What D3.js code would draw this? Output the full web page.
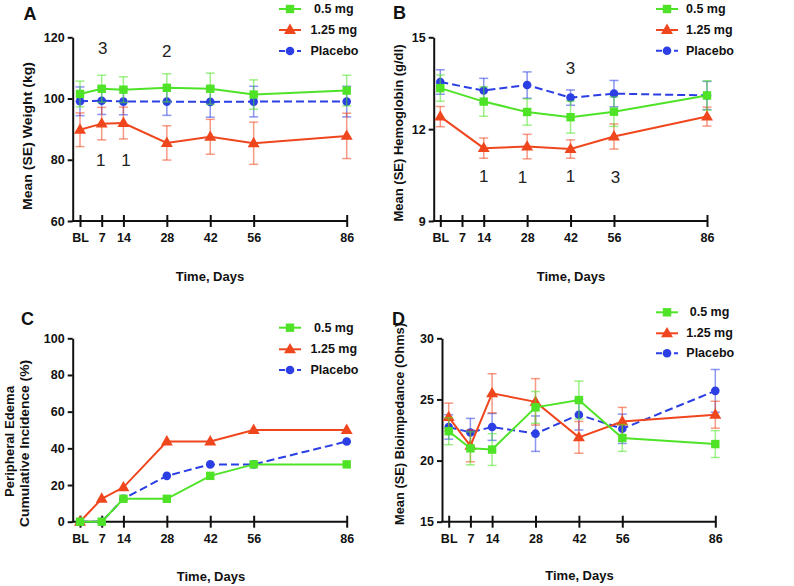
<!DOCTYPE html>
<html>
<head>
<meta charset="utf-8">
<script src="https://cdn.jsdelivr.net/npm/d3@7"></script>
<style>
  html, body { margin: 0; padding: 0; background: #fff; }
  svg { display: block; }
  text { font-family: "Liberation Sans", Arial, sans-serif; }
</style>
</head>
<body>
<svg id="chart" width="794" height="586"></svg>
<script>
// ---------- DATA ----------
const days = [0, 7, 14, 28, 42, 56, 86];
const dayTickLabels = ["BL", "7", "14", "28", "42", "56", "86"];
const seriesNames = [" 0.5 mg", "1.25 mg", "Placebo"];

// Panel A: weight (kg)
const weightDose05 = [101.5, 103.2, 102.9, 103.5, 103.2, 101.3, 102.6];
const weightDose05SE = [4.2, 4.4, 4.2, 4.6, 5.1, 4.8, 5.0];
const weightDose125 = [89.8, 91.8, 92.0, 85.5, 87.5, 85.4, 87.8];
const weightDose125SE = [5.5, 5.3, 5.2, 5.6, 5.7, 6.9, 7.4];
const weightPlacebo = [99.1, 99.3, 99.0, 99.0, 98.9, 99.0, 99.0];
const weightPlaceboSE = [4.7, 4.5, 4.3, 4.5, 5.0, 5.0, 5.0];
const weightTicks = [60, 80, 100, 120];

// Panel B: hemoglobin (g/dl) — no day-7 measurement
const hgbDays = [0, 14, 28, 42, 56, 86];
const hgbDose05 = [13.34, 12.9, 12.56, 12.39, 12.57, 13.1];
const hgbDose05SE = [0.43, 0.48, 0.43, 0.52, 0.48, 0.48];
const hgbDose125 = [12.41, 11.38, 11.43, 11.35, 11.76, 12.41];
const hgbDose125SE = [0.33, 0.33, 0.4, 0.3, 0.41, 0.31];
const hgbPlacebo = [13.54, 13.26, 13.44, 13.03, 13.16, 13.1];
const hgbPlaceboSE = [0.4, 0.4, 0.43, 0.25, 0.43, 0.46];
const hgbTicks = [9, 12, 15];

// Panel C: peripheral edema cumulative incidence (%)
const edemaDose05 = [0, 0, 12.5, 12.5, 25, 31.25, 31.25];
const edemaDose125 = [0, 12.5, 18.75, 43.75, 43.75, 50, 50];
const edemaPlacebo = [0, 0, 12.5, 25, 31.25, 31.25, 43.75];
const edemaTicks = [0, 20, 40, 60, 80, 100];

// Panel D: bioimpedance (Ohms)
const bioDose05 = [22.4, 21.0, 20.9, 24.35, 24.95, 21.85, 21.35];
const bioDose05SE = [1.1, 1.35, 1.3, 1.3, 1.55, 1.1, 1.1];
const bioDose125 = [23.55, 21.2, 25.5, 24.8, 21.9, 23.2, 23.75];
const bioDose125SE = [1.15, 1.3, 1.6, 1.9, 1.3, 1.15, 1.1];
const bioPlacebo = [22.75, 22.3, 22.75, 22.2, 23.75, 22.6, 25.7];
const bioPlaceboSE = [1.0, 1.15, 1.1, 1.45, 1.25, 1.2, 1.75];
const bioTicks = [15, 20, 25, 30];

// Significance annotations [day position, value position, label]
const annotA = [[7.3, 116.5, "3"], [28, 115.5, "2"], [6.7, 79.7, "1"], [14.8, 79.7, "1"]];
const annotB = [[14, 10.45, "1"], [26.5, 10.43, "1"], [42, 10.45, "1"], [56.5, 10.43, "3"], [42, 13.99, "3"]];

// ---------- STYLE ----------
const COL = { g: "#4fe327", r: "#f0461e", b: "#2b3fe4" };
const svg = d3.select("#chart");

function marker(sel, kind, color) {
  if (kind === "g") {
    sel.append("rect").attr("x", -4.2).attr("y", -4.2).attr("width", 8.4).attr("height", 8.4).attr("fill", color);
  } else if (kind === "r") {
    sel.append("path").attr("d", d3.symbol(d3.symbolTriangle, 62)()).attr("transform", "translate(0,0.5)").attr("fill", color);
  } else {
    sel.append("circle").attr("r", 4.3).attr("fill", color);
  }
}

function drawPanel(cfg) {
  const g = svg.append("g");
  const x = d3.scaleLinear().domain([0, 86]).range([cfg.x0, cfg.x86]);
  const y = d3.scaleLinear().domain(cfg.yDomain).range([cfg.yBottom, cfg.yTop]);

  // y axis
  const ya = g.append("g").attr("transform", `translate(${cfg.axisX},0)`)
    .call(d3.axisLeft(y).tickValues(cfg.yTicks).tickFormat(d3.format("d")).tickSize(5).tickPadding(3).tickSizeOuter(0));
  ya.select(".domain").attr("stroke-width", 2).attr("stroke", "#111");
  ya.selectAll(".tick line").attr("stroke-width", 2).attr("stroke", "#111");
  ya.selectAll(".tick text").attr("font-size", 12.5).attr("font-weight", "bold").attr("fill", "#111")
    .attr("font-family", "Liberation Sans, Arial, sans-serif");

  // x axis with crossing ticks
  const xa = g.append("g").attr("transform", `translate(0,${cfg.yBottom})`)
    .call(d3.axisBottom(x).tickValues(days).tickFormat((d, i) => dayTickLabels[i]).tickSize(6).tickPadding(6).tickSizeOuter(0));
  xa.select(".domain").remove();
  xa.append("line").attr("x1", cfg.axisX - 1).attr("x2", cfg.x86 + 1).attr("y1", 0).attr("y2", 0)
    .attr("stroke", "#111").attr("stroke-width", 2);
  xa.selectAll(".tick line").attr("y1", -6).attr("y2", 6).attr("stroke-width", 2).attr("stroke", "#111");
  xa.selectAll(".tick text").attr("font-size", 12.5).attr("font-weight", "bold").attr("fill", "#111")
    .attr("font-family", "Liberation Sans, Arial, sans-serif");

  // series: placebo first, then 1.25 mg, then 0.5 mg on top
  cfg.series.forEach(s => {
    const pts = s.vals.map((v, i) => ({ d: s.days[i], v, se: s.se ? s.se[i] : 0 }));
    const eg = g.append("g").attr("stroke", COL[s.k]).attr("stroke-opacity", 0.55).attr("stroke-width", 1.5);
    if (s.se) {
      pts.forEach(p => {
        const top = y(p.v + p.se), bot = y(p.v - p.se), cx = x(p.d);
        eg.append("line").attr("x1", cx).attr("x2", cx).attr("y1", top).attr("y2", bot);
        eg.append("line").attr("x1", cx - 4.5).attr("x2", cx + 4.5).attr("y1", top).attr("y2", top);
        eg.append("line").attr("x1", cx - 4.5).attr("x2", cx + 4.5).attr("y1", bot).attr("y2", bot);
      });
    }
    g.append("path").datum(pts)
      .attr("d", d3.line().x(p => x(p.d)).y(p => y(p.v)))
      .attr("fill", "none").attr("stroke", COL[s.k]).attr("stroke-width", 2)
      .attr("stroke-dasharray", s.k === "b" ? "8,4" : null);
    pts.forEach(p => {
      const m = g.append("g").attr("transform", `translate(${x(p.d)},${y(p.v)})`);
      marker(m, s.k, COL[s.k]);
    });
  });

  // annotations
  (cfg.annot || []).forEach(a => {
    g.append("text").attr("x", x(a[0])).attr("y", y(a[1])).attr("text-anchor", "middle")
      .attr("dominant-baseline", "central").attr("font-family", "Liberation Serif, Times New Roman, serif")
      .attr("font-size", 17).attr("fill", "#222").text(a[2]);
  });

  // panel letter
  g.append("text").attr("x", cfg.letterX).attr("y", cfg.letterY).attr("text-anchor", "middle")
    .attr("font-size", 18).attr("font-weight", "bold").attr("fill", "#111").text(cfg.letter);

  // x title
  g.append("text").attr("x", cfg.xTitleX).attr("y", cfg.xTitleY).attr("text-anchor", "middle")
    .attr("dominant-baseline", "central").attr("font-size", 13).attr("font-weight", "bold").attr("fill", "#111")
    .text("Time, Days");

  // y title(s)
  cfg.yTitles.forEach(t => {
    const tt = g.append("text").attr("transform", `translate(${t.x},${t.y}) rotate(-90)`).attr("text-anchor", "middle")
      .attr("dominant-baseline", "central").attr("font-size", 13).attr("font-weight", "bold").attr("fill", "#111")
      .text(t.text);
    if (t.len) tt.attr("textLength", t.len).attr("lengthAdjust", "spacingAndGlyphs");
  });

  // legend
  const order = [["g", 0], ["r", 1], ["b", 2]];
  order.forEach((o, i) => {
    const ly = cfg.legY[i];
    const lg = g.append("g");
    lg.append("line").attr("x1", cfg.legX - 11).attr("x2", cfg.legX + 11).attr("y1", ly).attr("y2", ly)
      .attr("stroke", COL[o[0]]).attr("stroke-width", 2).attr("stroke-dasharray", o[0] === "b" ? "6,3" : null);
    const m = lg.append("g").attr("transform", `translate(${cfg.legX},${ly})`);
    marker(m, o[0], COL[o[0]]);
    let label = seriesNames[o[1]];
    if (!cfg.legLeadSpace) label = label.trim();
    lg.append("text").attr("x", cfg.legTextX).attr("y", ly).attr("dominant-baseline", "central")
      .attr("font-size", 12.5).attr("font-weight", "bold").attr("fill", "#111")
      .style("white-space", "pre").text(label);
  });
}

drawPanel({
  letter: "A", letterX: 30, letterY: 20,
  axisX: 72.7, x0: 80, x86: 346.7, yTop: 37.3, yBottom: 221, yDomain: [60, 120], yTicks: weightTicks,
  series: [
    { k: "b", days: days, vals: weightPlacebo, se: weightPlaceboSE },
    { k: "r", days: days, vals: weightDose125, se: weightDose125SE },
    { k: "g", days: days, vals: weightDose05, se: weightDose05SE }
  ],
  annot: annotA,
  xTitleX: 210, xTitleY: 276,
  yTitles: [{ x: 27, y: 136, len: 148, text: "Mean (SE) Weight (kg)" }],
  legX: 290, legTextX: 310.5, legY: [9, 30, 51], legLeadSpace: true
});

drawPanel({
  letter: "B", letterX: 399.5, letterY: 18.5,
  axisX: 433.7, x0: 440.3, x86: 707, yTop: 37.3, yBottom: 221, yDomain: [9, 15], yTicks: hgbTicks,
  series: [
    { k: "b", days: hgbDays, vals: hgbPlacebo, se: hgbPlaceboSE },
    { k: "r", days: hgbDays, vals: hgbDose125, se: hgbDose125SE },
    { k: "g", days: hgbDays, vals: hgbDose05, se: hgbDose05SE }
  ],
  annot: annotB,
  xTitleX: 571, xTitleY: 276,
  yTitles: [{ x: 398, y: 133, text: "Mean (SE) Hemoglobin (g/dl)" }],
  legX: 667, legTextX: 686, legY: [9, 30, 50.7], legLeadSpace: false
});

drawPanel({
  letter: "C", letterX: 27.5, letterY: 325,
  axisX: 72.7, x0: 80, x86: 346.7, yTop: 338.3, yBottom: 521.7, yDomain: [0, 100], yTicks: edemaTicks,
  series: [
    { k: "b", days: days, vals: edemaPlacebo },
    { k: "r", days: days, vals: edemaDose125 },
    { k: "g", days: days, vals: edemaDose05 }
  ],
  xTitleX: 211, xTitleY: 576.5,
  yTitles: [
    { x: 9, y: 441.5, len: 111, text: "Peripheral Edema" },
    { x: 24, y: 443.5, len: 167, text: "Cumulative Incidence (%)" }
  ],
  legX: 290, legTextX: 310.5, legY: [327.7, 349.3, 370], legLeadSpace: true
});

drawPanel({
  letter: "D", letterX: 398.5, letterY: 325,
  axisX: 442, x0: 448.7, x86: 715.3, yTop: 338.3, yBottom: 521.7, yDomain: [15, 30], yTicks: bioTicks,
  series: [
    { k: "b", days: days, vals: bioPlacebo, se: bioPlaceboSE },
    { k: "r", days: days, vals: bioDose125, se: bioDose125SE },
    { k: "g", days: days, vals: bioDose05, se: bioDose05SE }
  ],
  xTitleX: 579.5, xTitleY: 575.5,
  yTitles: [{ x: 399, y: 424, len: 202, text: "Mean (SE) Bioimpedance (Ohms)" }],
  legX: 667, legTextX: 686.3, legY: [312.3, 333.3, 353.3], legLeadSpace: true
});
</script>
</body>
</html>
